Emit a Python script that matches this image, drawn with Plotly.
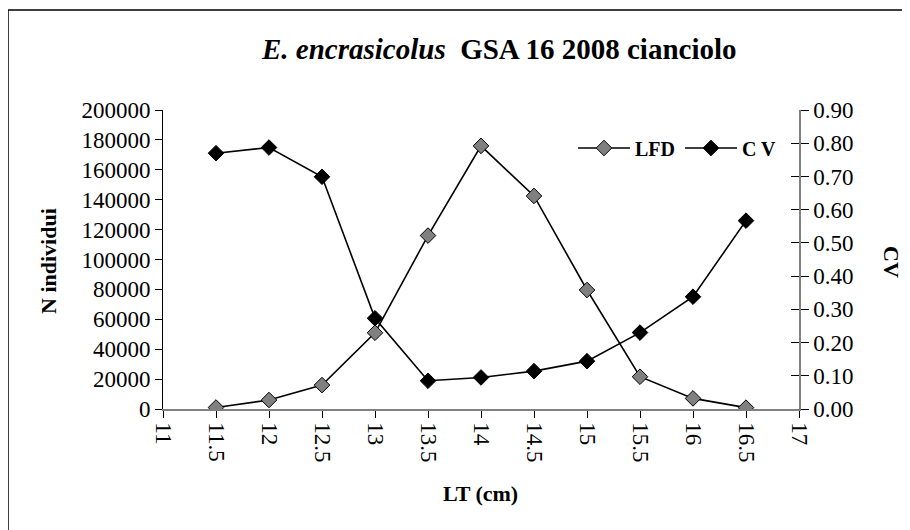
import plotly.graph_objects as go

lt = [11.5, 12, 12.5, 13, 13.5, 14, 14.5, 15, 15.5, 16, 16.5]
lfd = [1000, 6000, 16000, 51000, 116000, 176000, 142500, 79600, 21600, 7100, 900]
cv = [0.770, 0.787, 0.699, 0.273, 0.085, 0.095, 0.114, 0.144, 0.230, 0.338, 0.567]

x_ticks = [11, 11.5, 12, 12.5, 13, 13.5, 14, 14.5, 15, 15.5, 16, 16.5, 17]
x_ticktext = ["11", "11.5", "12", "12.5", "13", "13.5", "14", "14.5", "15", "15.5", "16", "16.5", "17"]

FONT = "Liberation Serif"
TICK = 23

fig = go.Figure()
fig.add_trace(go.Scatter(
    x=lt, y=lfd, name="<b>LFD</b>", mode="lines+markers",
    line=dict(color="black", width=1.6),
    marker=dict(symbol="diamond", size=12, color="#808080", line=dict(color="black", width=1)),
    yaxis="y"))
fig.add_trace(go.Scatter(
    x=lt, y=cv, name="<b>C V</b>", mode="lines+markers",
    line=dict(color="black", width=1.6),
    marker=dict(symbol="diamond", size=12, color="black", line=dict(color="black", width=1)),
    yaxis="y2"))

fig.update_layout(
    width=910, height=530,
    margin=dict(l=155, r=119, t=102, b=129),
    paper_bgcolor="white", plot_bgcolor="white",
    font=dict(family=FONT, size=TICK, color="black"),
    showlegend=True,
    legend=dict(orientation="h", x=(782 - 163) / 636, xanchor="right", y=(409 - 148) / 299, yanchor="middle",
                font=dict(family=FONT, size=20), bgcolor="rgba(0,0,0,0)",
                itemwidth=52, tracegroupgap=0),
    xaxis=dict(range=[11, 17], tickvals=x_ticks, ticktext=x_ticktext, tickangle=90,
               showgrid=False, zeroline=False, showline=True, linecolor="#808080", linewidth=1.5,
               ticks="outside", ticklen=7, tickcolor="black", tickwidth=1,
               tickfont=dict(family=FONT, size=TICK)),
    yaxis=dict(range=[0, 200000], dtick=20000, tickformat="d",
               showgrid=False, zeroline=False, showline=True, linecolor="black", linewidth=1,
               ticks="outside", ticklen=7, tickcolor="black",
               tickfont=dict(family=FONT, size=TICK)),
    yaxis2=dict(range=[0, 0.9], dtick=0.1, tickformat=".2f", overlaying="y", side="right",
                showgrid=False, zeroline=False, showline=True, linecolor="#808080", linewidth=1.5,
                ticks="outside", ticklen=8, tickcolor="black",
                tickfont=dict(family=FONT, size=TICK)),
    yaxis3=dict(range=[0, 0.9], dtick=0.1, overlaying="y", side="right", anchor="x",
                showgrid=False, zeroline=False, showline=False, showticklabels=False,
                ticks="inside", ticklen=8, tickcolor="black"),
)

# invisible trace to activate yaxis3 for cross ticks
fig.add_trace(go.Scatter(x=[None], y=[None], yaxis="y3", showlegend=False, hoverinfo="skip"))

fig.add_annotation(text="<b><i>E. encrasicolus</i>  GSA 16 2008 cianciolo</b>",
                   xref="paper", yref="paper", x=(499 - 163) / 636, y=(409 - 49) / 299,
                   xanchor="center", yanchor="middle", showarrow=False,
                   font=dict(family=FONT, size=29))
fig.add_annotation(text="<b>N individui</b>", xref="paper", yref="paper",
                   x=(48 - 163) / 636, y=(409 - 261) / 299, textangle=-90,
                   xanchor="center", yanchor="middle", showarrow=False,
                   font=dict(family=FONT, size=22))
fig.add_annotation(text="<b>CV</b>", xref="paper", yref="paper",
                   x=(892 - 163) / 636, y=(409 - 262) / 299, textangle=90,
                   xanchor="center", yanchor="middle", showarrow=False,
                   font=dict(family=FONT, size=22))
fig.add_annotation(text="<b>LT (cm)</b>", xref="paper", yref="paper",
                   x=(480 - 163) / 636, y=(409 - 493) / 299,
                   xanchor="center", yanchor="middle", showarrow=False,
                   font=dict(family=FONT, size=22))

# outer chart border (extends beyond the right and bottom of the frame)
fig.add_shape(type="rect", xref="paper", yref="paper",
              x0=(8 - 163) / 636, x1=(930 - 163) / 636,
              y0=(409 - 560) / 299, y1=(409 - 10) / 299,
              line=dict(color="black", width=1.5), fillcolor="rgba(0,0,0,0)", layer="below")

fig.write_html("out.html")
